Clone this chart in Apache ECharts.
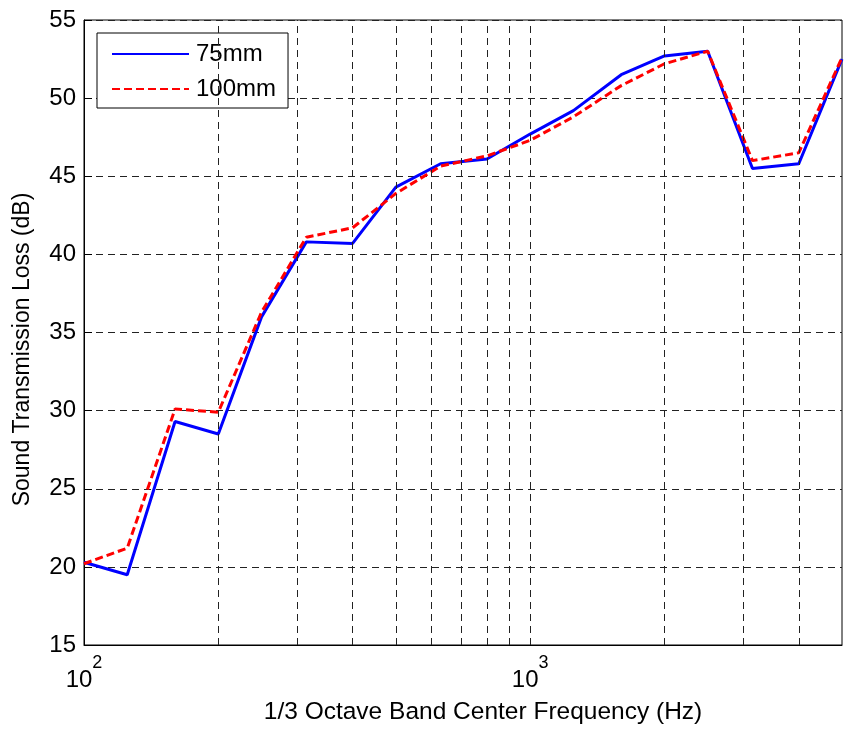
<!DOCTYPE html>
<html>
<head>
<meta charset="utf-8">
<script src="https://cdn.jsdelivr.net/npm/echarts@6/dist/echarts.min.js"></script>
<style>html,body{margin:0;padding:0;background:#fff;}#c{width:866px;height:731px;}</style>
</head>
<body>
<div id="c"></div>
<script>
var freqs = [100,125,160,200,250,315,400,500,630,800,1000,1250,1600,2000,2500,3150,4000,5000];
var mm75  = [20.3,19.5,29.3,28.5,36.0,40.8,40.7,44.3,45.8,46.1,47.7,49.2,51.5,52.7,53.0,45.5,45.8,52.5];
var mm100 = [20.2,21.2,30.1,29.9,36.3,41.1,41.7,43.9,45.65,46.3,47.3,48.8,50.8,52.2,53.0,46.0,46.5,52.6];
var gridFreqs = [200,300,400,500,600,700,800,900,1000,2000,3000,4000];
var seriesNames = ['75mm','100mm'];
var xTitle = '1/3 Octave Band Center Frequency (Hz)';
var yTitle = 'Sound Transmission Loss (dB)';

var FONT = "'Liberation Sans', Arial, Helvetica, sans-serif";
function pairs(vals){ return freqs.map(function(f,i){ return [f, vals[i]]; }); }

var chart = echarts.init(document.getElementById('c'), null, {renderer:'canvas'});
chart.setOption({
  backgroundColor: '#fff',
  animation: false,
  textStyle: {fontFamily: FONT},
  grid: {left: 84, right: 24, top: 20, bottom: 86, show: true, borderColor: '#000', borderWidth: 1, containLabel: false, outerBoundsMode: 'none'},
  legend: {
    data: seriesNames,
    orient: 'vertical',
    left: 97, top: 33,
    padding: [9, 12, 7, 14],
    itemWidth: 77, itemHeight: 14, itemGap: 11,
    itemStyle: {opacity: 0},
    backgroundColor: '#fff',
    borderColor: '#000', borderWidth: 1, borderRadius: 0,
    textStyle: {fontFamily: FONT, fontSize: 24, color: '#000', lineHeight: 24, padding: [0,0,0,2]}
  },
  xAxis: {
    type: 'log', logBase: 10, min: 100, max: 5000,
    name: xTitle, nameLocation: 'middle', nameGap: 55,
    nameTextStyle: {fontFamily: FONT, fontSize: 24.5, color: '#000', padding: [0,0,0,40]},
    axisLine: {show: true, lineStyle: {color: '#000', width: 1}},
    axisTick: {show: false},
    splitLine: {show: false},
    axisLabel: {
      margin: 9, color: '#000', showMaxLabel: false,
      formatter: function(v){
        var e = Math.round(Math.log10(v));
        if (Math.abs(Math.pow(10, e) - v) > 1e-6) return '';
        return '{b|10}{s|' + e + '}';
      },
      rich: {
        b: {fontFamily: FONT, fontSize: 24, color: '#000', lineHeight: 38, verticalAlign: 'bottom'},
        s: {fontFamily: FONT, fontSize: 18, color: '#000', lineHeight: 18, verticalAlign: 'top'}
      }
    }
  },
  yAxis: {
    type: 'value', min: 15, max: 55, interval: 5,
    name: yTitle, nameLocation: 'middle', nameGap: 50,
    nameTextStyle: {fontFamily: FONT, fontSize: 23, color: '#000', padding: [0,34,0,0]},
    axisLine: {show: true, lineStyle: {color: '#000', width: 1}},
    axisTick: {show: true, inside: true, length: 8, lineStyle: {color: '#000'}},
    axisLabel: {margin: 8, color: '#000', fontFamily: FONT, fontSize: 24},
    splitLine: {show: true, lineStyle: {color: '#222', width: 1, type: [7,5]}}
  },
  series: [
    {
      name: '__grid', type: 'line', data: [], z: 1, silent: true,
      markLine: {
        silent: true, symbol: ['none','none'], animation: false,
        label: {show: false},
        lineStyle: {color: '#222', width: 1, type: [7,5]},
        emphasis: {disabled: true},
        data: gridFreqs.map(function(f){ return {xAxis: f}; })
      }
    },
    {
      name: seriesNames[0], type: 'line', data: pairs(mm75), z: 3,
      symbol: 'none', showSymbol: false,
      lineStyle: {color: '#0000ff', width: 3},
      itemStyle: {color: '#0000ff'}
    },
    {
      name: seriesNames[1], type: 'line', data: pairs(mm100), z: 4,
      symbol: 'none', showSymbol: false,
      lineStyle: {color: '#ff0000', width: 3, type: [8,4]},
      itemStyle: {color: '#ff0000'}
    }
  ]
});
</script>
</body>
</html>
